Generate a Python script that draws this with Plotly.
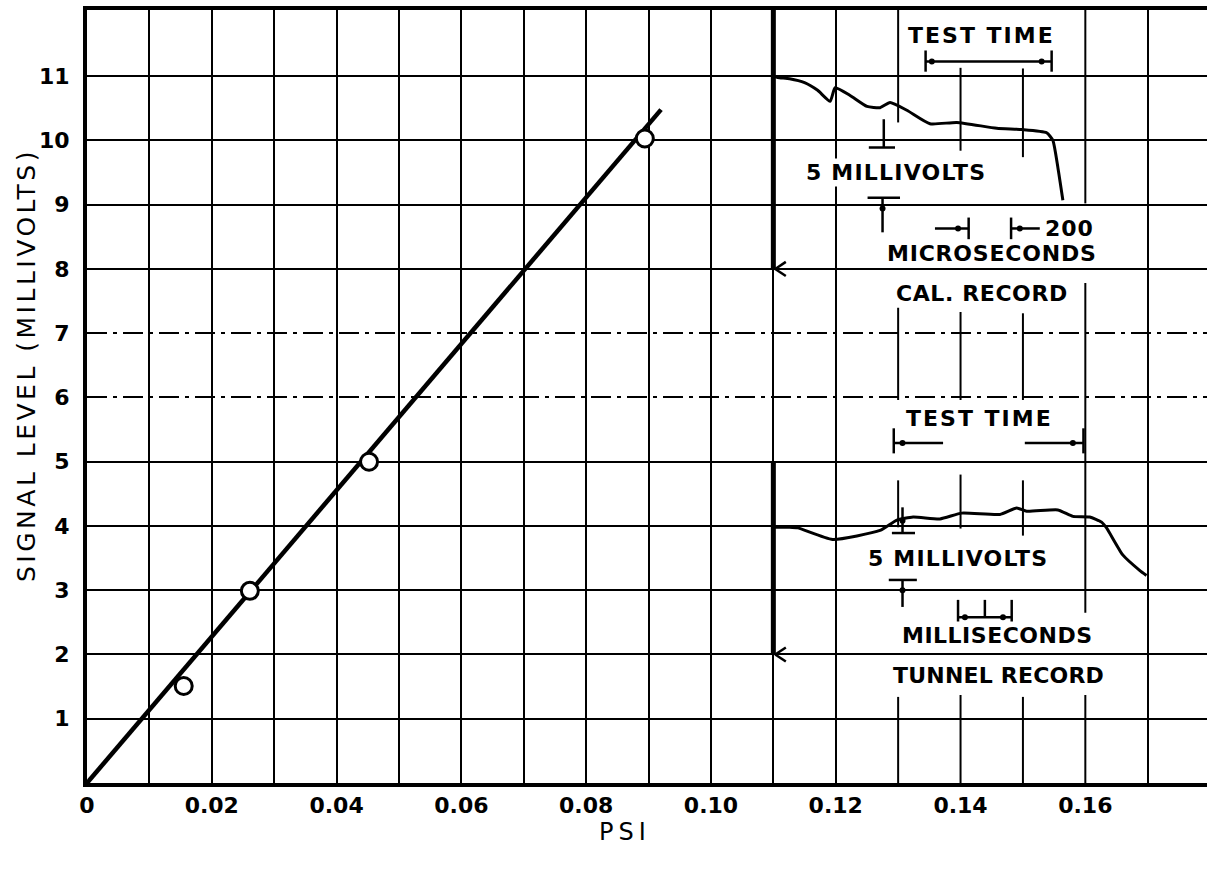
import plotly.graph_objects as go

# ---------------- data ----------------
# calibration points (PSI vs millivolts)
psi = [0.0155, 0.0261, 0.0452, 0.0894]
mv = [1.51, 2.99, 5.00, 10.03]
# fitted calibration line
fit_psi = [0.0, 0.092]
fit_mv = [0.0, 10.48]

# oscilloscope "CAL. RECORD" trace (drawn in the chart's coordinates)
cal_x = [0.1100, 0.1107, 0.1126, 0.1150, 0.1171, 0.1191, 0.1199, 0.1223, 0.1250,
         0.1271, 0.1287, 0.1314, 0.1351, 0.1394, 0.1458, 0.1498, 0.1538, 0.1548,
         0.1556, 0.1564]
cal_y = [11.00, 10.98, 10.96, 10.90, 10.78, 10.61, 10.82, 10.70, 10.53,
         10.51, 10.59, 10.47, 10.26, 10.28, 10.19, 10.17, 10.12, 10.00,
         9.58, 9.07]
cal_sweep_x = [0.110, 0.110]
cal_sweep_y = [8.0, 12.03]

# oscilloscope "TUNNEL RECORD" trace
tun_x = [0.1100, 0.1110, 0.1126, 0.1139, 0.1195, 0.1271, 0.1298, 0.1324, 0.1367,
         0.1402, 0.1463, 0.1490, 0.1506, 0.1556, 0.1580, 0.1607, 0.1626, 0.1634,
         0.1660, 0.1687, 0.1698]
tun_y = [3.98, 3.98, 3.98, 3.97, 3.79, 3.93, 4.09, 4.14, 4.11,
         4.20, 4.18, 4.28, 4.23, 4.25, 4.15, 4.14, 4.06, 3.97,
         3.55, 3.31, 3.23]
tun_sweep_x = [0.110, 0.110]
tun_sweep_y = [2.0, 5.0]

# axes
x_tick_vals = [0, 0.02, 0.04, 0.06, 0.08, 0.10, 0.12, 0.14, 0.16]
x_tick_text = ["0", "0.02", "0.04", "0.06", "0.08", "0.10", "0.12", "0.14", "0.16"]
y_tick_vals = [1, 2, 3, 4, 5, 6, 7, 8, 9, 10, 11]
y_tick_text = ["1", "2", "3", "4", "5", "6", "7", "8", "9", "10", "11"]
x_grid_full = [0.01, 0.02, 0.03, 0.04, 0.05, 0.06, 0.07, 0.08, 0.09, 0.10, 0.11, 0.12, 0.17]
y_grid_solid = [1, 2, 3, 4, 5, 8, 9, 10, 11]
y_grid_dashed = [6, 7]
X_RANGE = [0, 0.1795]
Y_RANGE = [0, 12.03]

# partial graticule lines inside the oscilloscope pictures: x -> [(y0, y1), ...]
scope_grid = {
    0.13: [(10.28, 12.03), (5.96, 7.40), (3.98, 4.71), (0.0, 1.34)],
    0.14: [(9.84, 11.13), (5.96, 7.33), (3.96, 4.80), (0.0, 1.37)],
    0.15: [(9.74, 11.12), (5.96, 7.31), (3.85, 4.71), (0.0, 1.34)],
    0.16: [(9.02, 12.03), (2.65, 7.78), (0.0, 1.37)],
}

# scale / bracket marks of the oscilloscope pictures: (x0, y0, x1, y1)
scope_marks = [
    # upper TEST TIME bracket
    (0.1344, 11.23, 0.1546, 11.23), (0.1344, 11.07, 0.1344, 11.40), (0.1546, 11.07, 0.1546, 11.40),
    # upper 5 mV marks
    (0.1277, 10.33, 0.1277, 9.89), (0.1253, 9.89, 0.1295, 9.89),
    (0.1251, 9.11, 0.1303, 9.11), (0.1275, 9.11, 0.1275, 8.57),
    # 200 microsecond marks
    (0.1359, 8.63, 0.1413, 8.63), (0.1413, 8.46, 0.1413, 8.80),
    (0.1481, 8.63, 0.1527, 8.63), (0.1481, 8.46, 0.1481, 8.80),
    # lower TEST TIME bracket
    (0.1293, 5.29, 0.1372, 5.29), (0.1293, 5.13, 0.1293, 5.52),
    (0.1503, 5.29, 0.1597, 5.29), (0.1597, 5.13, 0.1597, 5.52),
    # lower 5 mV marks
    (0.1307, 4.29, 0.1307, 3.89), (0.1290, 3.89, 0.1327, 3.89),
    (0.1285, 3.16, 0.1330, 3.16), (0.1307, 3.16, 0.1307, 2.74),
    # millisecond marks
    (0.1396, 2.58, 0.1482, 2.58), (0.1396, 2.50, 0.1396, 2.85),
    (0.1439, 2.58, 0.1439, 2.85), (0.1482, 2.50, 0.1482, 2.85),
    # arrow heads pointing at the sweep lines
    (0.1103, 8.0, 0.1120, 8.11), (0.1103, 8.0, 0.1120, 7.89),
    (0.1103, 2.0, 0.1120, 2.11), (0.1103, 2.0, 0.1120, 1.89),
]
scope_dots_x = [0.1354, 0.1530, 0.1275, 0.1396, 0.1495, 0.1307, 0.1580, 0.1307, 0.1307, 0.1407, 0.1468]
scope_dots_y = [11.23, 11.23, 8.94, 8.63, 8.63, 5.29, 5.29, 4.08, 3.00, 2.58, 2.58]

# texts: (label, x, y, letter spacing px)
scope_texts = [
    ("TEST TIME", 0.1433, 11.63, 2),
    ("5 MILLIVOLTS", 0.1297, 9.50, 1.2),
    ("200", 0.1575, 8.63, 1),
    ("MICROSECONDS", 0.1450, 8.24, 0.8),
    ("CAL. RECORD", 0.1435, 7.62, 0.6),
    ("TEST TIME", 0.1430, 5.68, 2),
    ("5 MILLIVOLTS", 0.1396, 3.50, 1.2),
    ("MILLISECONDS", 0.1459, 2.30, 0.5),
    ("TUNNEL RECORD", 0.1461, 1.68, 0.2),
]

BOLD = "DejaVu Sans"

fig = go.Figure()

# dummy traces so the overlay grid axes are drawn
fig.add_trace(go.Scatter(x=[None], y=[None], xaxis="x2", yaxis="y2", showlegend=False, hoverinfo="skip"))
fig.add_trace(go.Scatter(x=[None], y=[None], xaxis="x2", yaxis="y3", showlegend=False, hoverinfo="skip"))

fig.add_trace(go.Scatter(x=fit_psi, y=fit_mv, mode="lines",
                         line=dict(color="black", width=4.5), showlegend=False))
fig.add_trace(go.Scatter(x=psi, y=mv, mode="markers",
                         marker=dict(symbol="circle", size=17, color="white",
                                     line=dict(color="black", width=3)),
                         showlegend=False))
fig.add_trace(go.Scatter(x=cal_sweep_x, y=cal_sweep_y, mode="lines",
                         line=dict(color="black", width=5), showlegend=False))
fig.add_trace(go.Scatter(x=tun_sweep_x, y=tun_sweep_y, mode="lines",
                         line=dict(color="black", width=5), showlegend=False))
fig.add_trace(go.Scatter(x=cal_x, y=cal_y, mode="lines",
                         line=dict(color="black", width=3, shape="spline", smoothing=0.5),
                         showlegend=False))
fig.add_trace(go.Scatter(x=tun_x, y=tun_y, mode="lines",
                         line=dict(color="black", width=3, shape="spline", smoothing=0.5),
                         showlegend=False))
fig.add_trace(go.Scatter(x=scope_dots_x, y=scope_dots_y, mode="markers",
                         marker=dict(size=6, color="black"), showlegend=False))

shapes = []
for gx, segs in scope_grid.items():
    for (y0, y1) in segs:
        shapes.append(dict(type="line", xref="x", yref="y", x0=gx, x1=gx, y0=y0, y1=y1,
                           line=dict(color="black", width=2), layer="below"))
for (x0, y0, x1, y1) in scope_marks:
    shapes.append(dict(type="line", xref="x", yref="y", x0=x0, x1=x1, y0=y0, y1=y1,
                       line=dict(color="black", width=2.5)))

annotations = []
for (t, x, y, ls) in scope_texts:
    annotations.append(dict(text='<span style="letter-spacing:%spx">%s</span>' % (ls, t),
                            x=x, y=y, xref="x", yref="y", showarrow=False,
                            xanchor="center", yanchor="middle",
                            font=dict(family=BOLD, size=22, color="black", weight="bold"),
                            bgcolor="white", borderpad=1))

W, H = 1207, 875
ML, MR, MT, MB = 87, 0, 10, 92
PW, PH = W - ML - MR, H - MT - MB
# axis titles placed at their pixel positions (converted to paper coordinates)
title_px = [
    ('<span style="letter-spacing:3.5px">SIGNAL LEVEL (MILLIVOLTS)</span>', 26, 365, -90, 25),
    ('<span style="letter-spacing:5px">PSI</span>', 625, 832, 0, 24),
]
for (t, px, py, ang, fs) in title_px:
    annotations.append(dict(text=t, x=(px - ML) / PW, y=(H - MB - py) / PH,
                            xref="paper", yref="paper", showarrow=False,
                            xanchor="center", yanchor="middle", textangle=ang,
                            font=dict(family="DejaVu Sans", size=fs, color="black")))

tickfont = dict(family=BOLD, size=22, color="black", weight="bold")

fig.update_layout(
    width=W, height=H,
    margin=dict(l=ML, r=MR, t=MT, b=MB, pad=0),
    paper_bgcolor="white", plot_bgcolor="white",
    showlegend=False,
    xaxis=dict(range=X_RANGE, tickvals=x_tick_vals, ticktext=x_tick_text,
               showgrid=False, zeroline=False, showline=True, linecolor="black",
               linewidth=4, mirror=True, ticks="", tickfont=tickfont,
               ticklabelstandoff=0, automargin=False),
    xaxis2=dict(range=X_RANGE, overlaying="x", tickvals=x_grid_full, showticklabels=False,
                showgrid=True, gridcolor="black", gridwidth=2, zeroline=False,
                showline=False, ticks=""),
    yaxis=dict(range=Y_RANGE, tickvals=y_tick_vals, ticktext=y_tick_text,
               showgrid=False, zeroline=False, showline=True, linecolor="black",
               linewidth=4, ticks="", tickfont=tickfont, ticklabelstandoff=9,
               automargin=False),
    yaxis2=dict(range=Y_RANGE, overlaying="y", tickvals=y_grid_solid, showticklabels=False,
                showgrid=True, gridcolor="black", gridwidth=2, zeroline=False,
                showline=False, ticks=""),
    yaxis3=dict(range=Y_RANGE, overlaying="y", tickvals=y_grid_dashed, showticklabels=False,
                showgrid=True, gridcolor="black", gridwidth=2, griddash="20px,6px,4px,6px",
                zeroline=False, showline=False, ticks=""),
    shapes=shapes,
    annotations=annotations,
)

fig.write_html("out.html", config={"displayModeBar": False},
               post_script="document.body.style.margin='0px';")
